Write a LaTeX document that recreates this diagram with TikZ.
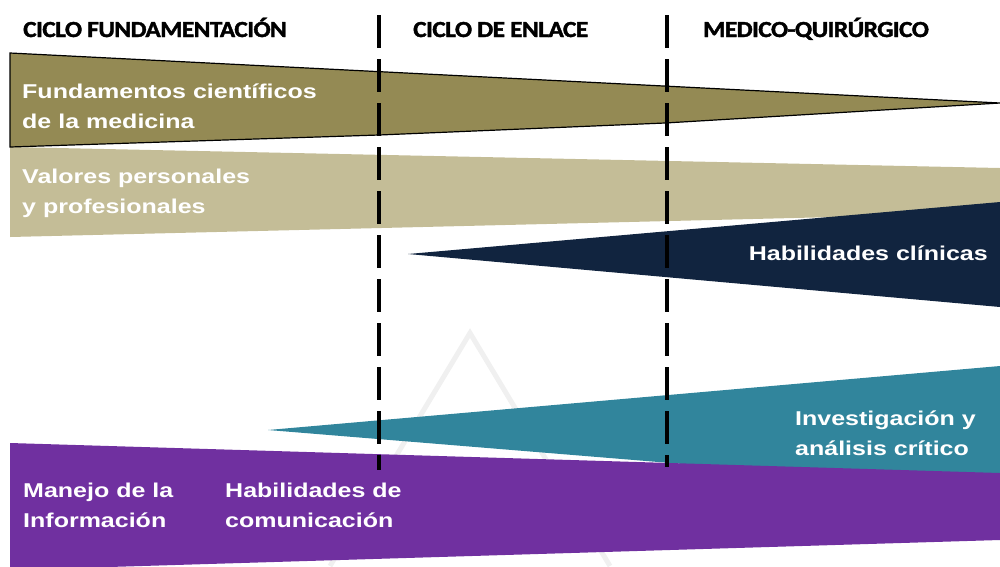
\documentclass[tikz,border=0pt]{standalone}
\usepackage{fontspec}
\newfontfamily\bodyfont{Liberation Sans}
\newfontfamily\headfont{Carlito}[BoldFeatures={FakeBold=1.6, LetterSpace=-2}]
\definecolor{colOlive}{HTML}{948A54}
\definecolor{colKhaki}{HTML}{C4BD97}
\definecolor{colNavy}{HTML}{11243F}
\definecolor{colTeal}{HTML}{31859C}
\definecolor{colPurple}{HTML}{7030A0}
\begin{document}
\begin{tikzpicture}[x=1pt,y=-1pt,
  lbl/.style={anchor=base west, inner sep=0pt, text=white, font=\bodyfont\bfseries\fontsize{20}{30}\selectfont},
  hdr/.style={anchor=base west, inner sep=0pt, font=\headfont\bfseries\fontsize{23}{28}\selectfont},
  divider/.style={line width=3.5pt, dash pattern=on 33pt off 11pt},
  wmark/.style={draw=black!6, line width=5pt}]
\useasboundingbox (0,0) rectangle (1000,566);
\clip (0,0) rectangle (1000,566);
% faint watermark
\draw[wmark] (330,566) -- (470,333) -- (610,566);
% bands
\fill[colKhaki] (10,147) -- (1000,168) -- (1000,213) -- (10,237) -- cycle;
\filldraw[fill=colOlive, draw=black, line width=1.2pt] (10,53) -- (1000,103) -- (665,123) -- (379,135) -- (10,147) -- cycle;
\fill[colNavy] (408,254) -- (1000,202) -- (1000,307) -- cycle;
\fill[colTeal] (268,430) -- (1000,366) -- (1000,490) -- cycle;
\fill[colPurple] (10,443) -- (1000,473) -- (1000,540) -- (10,570) -- cycle;
% dividers
\coordinate (d1t) at (379,15); \coordinate (d1b) at (379,470);
\coordinate (d2t) at (667,15); \coordinate (d2b) at (667,467);
\draw[divider] (d1t) -- (d1b);
\draw[divider] (d2t) -- (d2b);
% headers
\node[hdr] (h1) at (23,37) {\scalebox{1.1}[1]{CICLO FUNDAMENTACIÓN}};
\node[hdr] (h2) at (413,37) {\scalebox{1.1}[1]{CICLO DE ENLACE}};
\node[hdr] (h3) at (703,37) {\scalebox{1.1}[1]{MEDICO-QUIRÚRGICO}};
% labels
\node[lbl] (fund) at (22,98) {\scalebox{1.25}[1]{\begin{tabular}[t]{@{}l@{}}Fundamentos científicos\\de la medicina\end{tabular}}};
\node[lbl] (val) at (22,183) {\scalebox{1.25}[1]{\begin{tabular}[t]{@{}l@{}}Valores personales\\y profesionales\end{tabular}}};
\node[lbl, anchor=base east] (clin) at (988,260) {\scalebox{1.25}[1]{Habilidades clínicas}};
\node[lbl] (inv) at (795,425) {\scalebox{1.25}[1]{\begin{tabular}[t]{@{}l@{}}Investigación y\\análisis crítico\end{tabular}}};
\node[lbl] (man) at (23,497) {\scalebox{1.25}[1]{\begin{tabular}[t]{@{}l@{}}Manejo de la\\Información\end{tabular}}};
\node[lbl] (com) at (225,497) {\scalebox{1.25}[1]{\begin{tabular}[t]{@{}l@{}}Habilidades de\\comunicación\end{tabular}}};
\end{tikzpicture}
\end{document}
